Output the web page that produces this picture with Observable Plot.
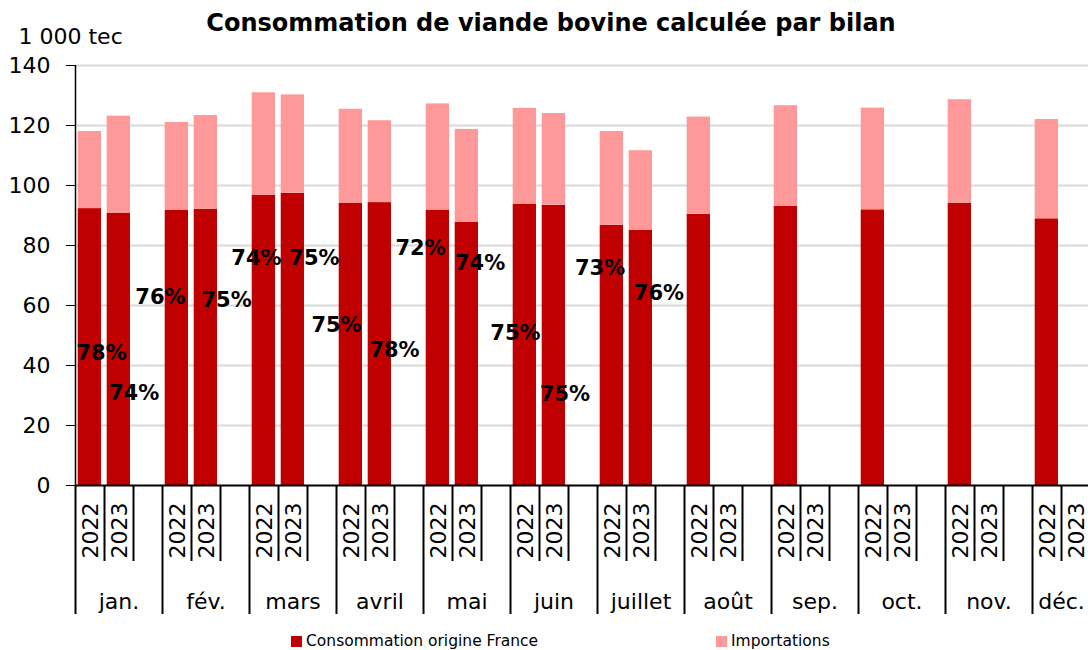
<!DOCTYPE html>
<html>
<head>
<meta charset="utf-8">
<script src="https://cdn.jsdelivr.net/npm/d3@7"></script>
<script src="https://cdn.jsdelivr.net/npm/@observablehq/plot@0.6"></script>
<style>
  body { margin: 0; background: #fff; font-family: "DejaVu Sans", sans-serif; overflow: hidden; }
  #wrap { position: relative; width: 1088px; height: 650px; overflow: hidden; }
  #title { position: absolute; top: 8px; left: 0; width: 1102px; text-align: center; font-weight: bold; font-size: 24px; line-height: 30px; color: #000; }
  #legend { position: absolute; top: 630px; left: 0; width: 1088px; height: 22px; font-size: 15.5px; color: #000; }
  .item { position: absolute; top: 0; height: 22px; display: flex; align-items: center; }
  .sw { width: 11px; height: 11px; margin-right: 4px; }
</style>
</head>
<body>
<div id="wrap">
  <div id="chart"></div>
  <div id="title">Consommation de viande bovine calculée par bilan</div>
  <div id="legend">
    <div class="item" style="left:291px"><span class="sw" style="background:#C00000"></span>Consommation origine France</div>
    <div class="item" style="left:716px"><span class="sw" style="background:#FF9999"></span>Importations</div>
  </div>
</div>
<script>
// ---- data (1 000 tec) ----
const months = ["jan.", "fév.", "mars", "avril", "mai", "juin", "juillet", "août", "sep.", "oct.", "nov.", "déc."];
const years = ["2022", "2023"];
const france2022  = [92.3, 91.8, 96.7, 94.0, 91.8, 93.8, 86.7, 90.4, 93.1, 91.9, 94.1, 88.9];
const imports2022 = [25.7, 29.2, 34.2, 31.4, 35.4, 31.9, 31.3, 32.4, 33.5, 33.9, 34.5, 33.1];
const france2023  = [90.8, 92.1, 97.4, 94.3, 87.7, 93.4, 85.1];
const imports2023 = [32.3, 31.2, 32.8, 27.3, 31.0, 30.6, 26.5];
// share labels (as placed in the original chart: slot units / 1 000 tec)
const shareText = ["78%", "74%", "76%", "75%", "74%", "75%", "75%", "78%", "72%", "74%", "75%", "75%", "73%", "76%"];
const shareX    = [0.90, 2.02, 2.93, 5.21, 6.24, 8.24, 9.00, 11.0, 11.9, 13.95, 15.17, 16.88, 18.09, 20.12];
const shareY    = [44, 30.7, 62.7, 61.7, 75.7, 75.7, 53.3, 45, 79, 74, 50.7, 30.3, 72.3, 64];
const yTicks = [0, 20, 40, 60, 80, 100, 120, 140];

// ---- derived tables ----
const series = [[france2022, imports2022], [france2023, imports2023]];
const bars = [];
const yearSlots = [];
months.forEach((m, i) => {
  series.forEach(([f, imp], k) => {
    yearSlots.push({slot: i * 3 + k, year: years[k]});
    if (f[i] == null) return;
    bars.push({slot: i * 3 + k, france: f[i], total: f[i] + imp[i]});
  });
});
const shares = shareText.map((t, i) => ({text: t, x: shareX[i], y: shareY[i]}));
const shortTicks = months.flatMap((m, i) => [i * 3 + 1, i * 3 + 2]);
const longTicks = months.map((m, i) => i * 3);
const lastVisibleCenter = 34; // the last month label is kept inside the visible area

const chart = Plot.plot({
  width: 1088,
  height: 628,
  marginLeft: 75,
  marginRight: 0,
  marginTop: 65,
  marginBottom: 143,
  style: {fontFamily: "DejaVu Sans", fontSize: "22px", color: "#000", background: "#fff"},
  x: {type: "linear", domain: [0, 36], range: [75, 1119], axis: null},
  y: {domain: [0, 140], ticks: yTicks, tickSize: 9, tickPadding: 16, label: null},
  marks: [
    Plot.ruleY(yTicks.filter(d => d > 0), {stroke: "#d9d9d9", strokeWidth: 2}),
    Plot.rectY(bars, {x1: d => d.slot, x2: d => d.slot + 1, y1: 0, y2: d => d.france, fill: "#C00000", insetLeft: 2.7, insetRight: 3}),
    Plot.rectY(bars, {x1: d => d.slot, x2: d => d.slot + 1, y1: d => d.france, y2: d => d.total, fill: "#FF9999", insetLeft: 2.7, insetRight: 3}),
    Plot.ruleX([0], {y1: 0, y2: 140, stroke: "#000", strokeWidth: 1.5}),
    Plot.ruleY([0], {stroke: "#000", strokeWidth: 2}),
    Plot.ruleX(shortTicks, {x: d => d, y1: 0, y2: 0, insetBottom: -76, stroke: "#000", strokeWidth: 2}),
    Plot.ruleX(longTicks, {x: d => d, y1: 0, y2: 0, insetBottom: -129, stroke: "#000", strokeWidth: 2}),
    Plot.text(yearSlots, {x: d => d.slot + 0.5, y: 0, text: d => d.year, rotate: -90, dx: 1, dy: 45}),
    Plot.text(months, {x: (d, i) => Math.min(i * 3 + 1.5, lastVisibleCenter), y: 0, text: d => d, lineAnchor: "bottom", dy: 123}),
    Plot.text(shares, {x: "x", y: "y", text: "text", fontWeight: "bold", fontSize: 21}),
    Plot.text(["1 000 tec"], {frameAnchor: "top-left", textAnchor: "start", lineAnchor: "bottom", dx: -57, dy: -22})
  ]
});
document.getElementById("chart").appendChild(chart);
</script>
</body>
</html>
